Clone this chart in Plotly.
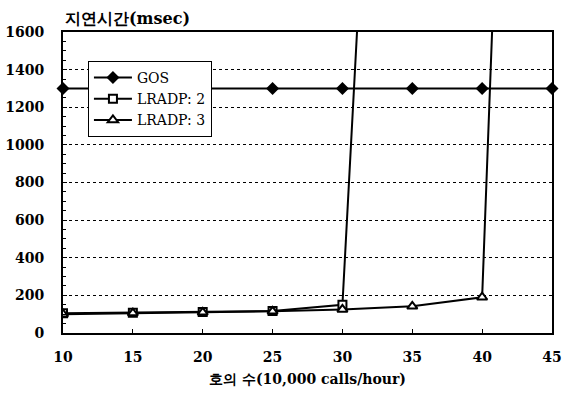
import plotly.graph_objects as go

x_gos = [10, 15, 20, 25, 30, 35, 40, 45]
gos = [1300, 1300, 1300, 1300, 1300, 1300, 1300, 1300]
x_l2 = [10, 15, 20, 25, 30, 35]
lradp2 = [105, 108, 112, 117, 150, 7100]
x_l3 = [10, 15, 20, 25, 30, 35, 40, 45]
lradp3 = [100, 106, 110, 115, 125, 142, 190, 10100]
x_ticks = [10, 15, 20, 25, 30, 35, 40, 45]
y_ticks = [0, 200, 400, 600, 800, 1000, 1200, 1400, 1600]

FONT = "DejaVu Serif"

fig = go.Figure()
fig.add_trace(go.Scatter(x=x_gos, y=gos, name="GOS", mode="lines+markers",
                         line=dict(color="black", width=2),
                         marker=dict(symbol="diamond", size=10, color="black"),
                         cliponaxis=False))
fig.add_trace(go.Scatter(x=x_l2, y=lradp2, name="LRADP: 2", mode="lines+markers",
                         line=dict(color="black", width=2),
                         marker=dict(symbol="square", size=8, color="white",
                                     line=dict(color="black", width=2))))
fig.add_trace(go.Scatter(x=x_l3, y=lradp3, name="LRADP: 3", mode="lines+markers",
                         line=dict(color="black", width=2),
                         marker=dict(symbol="triangle-up", size=9, color="white",
                                     line=dict(color="black", width=2))))

fig.update_layout(
    width=573, height=394,
    margin=dict(l=63, r=21, t=32, b=61),
    paper_bgcolor="white", plot_bgcolor="white",
    font=dict(family=FONT, color="black", size=15),
    showlegend=True,
    legend=dict(x=0.051, y=0.904, xanchor="left", yanchor="top",
                bordercolor="black", borderwidth=1, bgcolor="white",
                font=dict(size=14, family=FONT), itemwidth=38,
                tracegroupgap=0),
    xaxis=dict(range=[10, 45], tickvals=x_ticks, ticks="inside", ticklen=4,
               tickcolor="black", showline=True, linecolor="black", linewidth=2,
               mirror=True, showgrid=False, zeroline=False, automargin=False,
               ticklabelstandoff=10,
               tickfont=dict(size=14, family=FONT, weight="bold"),
               title=dict(text="호의 수(10,000 calls/hour)",
                          font=dict(size=14, family=FONT, weight="bold"),
                          standoff=10)),
    yaxis=dict(range=[0, 1600], tickvals=y_ticks, ticks="inside", ticklen=4,
               tickcolor="black", showline=True, linecolor="black", linewidth=2,
               mirror=True, showgrid=True, gridcolor="black", griddash="dot",
               gridwidth=1, zeroline=False, ticklabelstandoff=14, automargin=False,
               minor=dict(dtick=50, ticks="inside", ticklen=3, tickcolor="black"),
               tickfont=dict(size=14, family=FONT, weight="bold")),
)
fig.add_annotation(text="지연시간(msec)", xref="paper", yref="paper",
                   x=0, y=1.0, xanchor="left", yanchor="bottom", yshift=2,
                   showarrow=False,
                   font=dict(size=16, family=FONT, weight="bold"))

fig.write_html("out.html")
